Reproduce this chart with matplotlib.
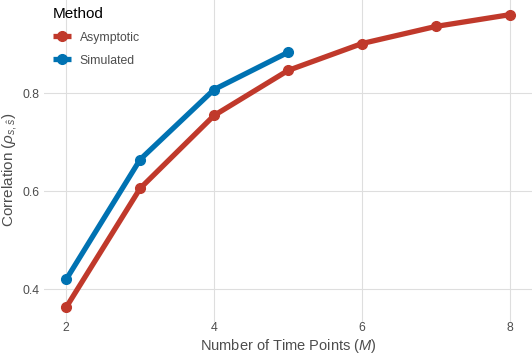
import numpy as np
import matplotlib.pyplot as plt

plt.rcParams['font.family'] = ['Liberation Sans', 'DejaVu Sans']
plt.rcParams['mathtext.fontset'] = 'custom'
plt.rcParams['mathtext.rm'] = 'Liberation Sans'
plt.rcParams['mathtext.it'] = 'Liberation Sans:italic'

# data
m_asym = [2, 3, 4, 5, 6, 7, 8]
corr_asym = [0.363, 0.606, 0.755, 0.847, 0.902, 0.937, 0.961]
m_sim = [2, 3, 4, 5]
corr_sim = [0.420, 0.665, 0.808, 0.884]

red = '#C0392B'
blue = '#0072B2'
grey_text = '#4D4D4D'

fig = plt.figure(figsize=(5.32, 3.56), dpi=100)
ax = fig.add_axes([44 / 532, 34 / 356, 488 / 532, 322 / 356])

ax.plot(m_asym, corr_asym, color=red, lw=3.8, marker='o', ms=7, label='Asymptotic',
        solid_capstyle='butt', zorder=3)
ax.plot(m_sim, corr_sim, color=blue, lw=3.8, marker='o', ms=7, label='Simulated',
        solid_capstyle='butt', zorder=3)

ax.set_xlim(1.7, 8.3)
ax.set_ylim(0.333, 0.991)
ax.set_xticks([2, 4, 6, 8])
ax.set_yticks([0.4, 0.6, 0.8])
ax.set_yticklabels(['0.4', '0.6', '0.8'])
ax.grid(True, color='#DEDEDE', lw=0.8)
ax.set_axisbelow(True)
for s in ax.spines.values():
    s.set_visible(False)
ax.tick_params(length=0, labelsize=8.8, labelcolor=grey_text)
ax.tick_params(axis='x', pad=0)
ax.tick_params(axis='y', pad=3)

ax.set_xlabel('Number of Time Points ($M$)', fontsize=10.5, color=grey_text, labelpad=2)
ax.set_ylabel(r'Correlation ($\rho_{s,\hat{s}}$)', fontsize=11, color=grey_text)
ax.yaxis.set_label_coords((19 - 44) / 488, (322 - 170) / 322)

leg = ax.legend(title='Method', loc='upper left', bbox_to_anchor=(46 / 532, 1.0),
                bbox_transform=fig.transFigure, frameon=False, fontsize=8.8,
                title_fontsize=11, handlelength=1.5, handletextpad=0.7,
                labelspacing=0.9, borderaxespad=0.15)
leg._legend_box.align = 'left'
for t in leg.get_texts():
    t.set_color(grey_text)

fig.savefig('out.png', dpi=100, facecolor='white')
